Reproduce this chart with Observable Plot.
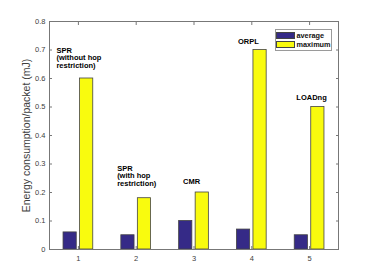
<!DOCTYPE html>
<html><head><meta charset="utf-8">
<script src="https://cdn.jsdelivr.net/npm/d3@7"></script>
<script src="https://cdn.jsdelivr.net/npm/@observablehq/plot@0.6"></script>
<style>
body{margin:0;background:#fff;font-family:"Liberation Sans",Arial,Helvetica,sans-serif;}
#wrap{position:relative;width:374px;height:280px;}
#legend{position:absolute;left:275px;top:29px;width:55px;height:20px;border:1px solid #9a9a9a;background:#fff;}
.item{position:absolute;left:0px;height:10px;display:flex;align-items:center;font-weight:bold;font-size:7.3px;color:#111;white-space:nowrap;}
.sw{width:17px;height:5px;border:1px solid #444;margin-right:1.5px;}
</style></head><body><div id="wrap"></div>
<script>
const groups = [1, 2, 3, 4, 5];
const seriesNames = ["average", "maximum"];
const average = [0.06, 0.05, 0.10, 0.07, 0.05];
const maximum = [0.60, 0.18, 0.20, 0.70, 0.50];
const seriesColors = ["#352a87", "#f9fb0e"];
const xTickLabels = ["1", "2", "3", "4", "5"];
const yTicks = [0, 0.1, 0.2, 0.3, 0.4, 0.5, 0.6, 0.7, 0.8];
const yTickLabels = ["0", "0.1", "0.2", "0.3", "0.4", "0.5", "0.6", "0.7", "0.8"];
const labelText = ["SPR\n(without hop\nrestriction)", "SPR\n(with hop\nrestriction)", "CMR", "ORPL", "LOADng"];
const labelX = [0.62, 1.67, 2.81, 3.76, 4.77];
const labelY = [0.672, 0.258, 0.238, 0.730, 0.534];
const yLabel = "Energy consumption/packet (mJ)";

const seriesValues = [average, maximum];
const n = seriesNames.length;
const groupWidth = Math.min(0.8, n / (n + 1.5));
const barW = groupWidth / n * 0.8;
const rows = seriesNames.flatMap((s, j) => groups.map((g, i) => {
  const off = (j - (n - 1) / 2) * groupWidth / n;
  return {g, s, j, v: seriesValues[j][i], x1: g + off - barW / 2, x2: g + off + barW / 2};
}));
const labels = labelText.map((t, i) => ({t, x: labelX[i], y: labelY[i]}));

const font = "'Liberation Sans', Arial, Helvetica, sans-serif";
const axisColor = "#404040";

const chart = Plot.plot({
  width: 374, height: 280,
  marginLeft: 49, marginRight: 36, marginTop: 21, marginBottom: 31,
  style: {fontFamily: font, background: "white"},
  x: {type: "linear", domain: [0.5, 5.5]},
  y: {type: "linear", domain: [0, 0.8]},
  color: {type: "identity"},
  marks: [
    Plot.rect(rows, {x1: "x1", x2: "x2", y1: 0, y2: "v", fill: d => seriesColors[d.j], stroke: "#444", strokeWidth: 0.8}),
    Plot.frame({stroke: "#777", strokeWidth: 1}),
    Plot.axisX({anchor: "bottom", ticks: groups, tickSize: -3, tickFormat: () => "", label: null, stroke: "#777"}),
    Plot.axisX({anchor: "top", ticks: groups, tickSize: -3, tickFormat: () => "", label: null, stroke: "#777"}),
    Plot.axisY({anchor: "left", ticks: yTicks, tickSize: -3, tickFormat: () => "", label: null, stroke: "#777"}),
    Plot.axisY({anchor: "right", ticks: yTicks, tickSize: -3, tickFormat: () => "", label: null, stroke: "#777"}),
    Plot.axisX({anchor: "bottom", ticks: groups, tickSize: 0, tickPadding: 6, tickFormat: d => xTickLabels[groups.indexOf(d)], label: null, fontSize: 7.5, fill: axisColor}),
    Plot.axisY({anchor: "left", ticks: yTicks, tickSize: 0, tickPadding: 4, tickFormat: d => yTickLabels[yTicks.indexOf(d)], label: null, fontSize: 7.5, fill: axisColor}),
    Plot.text([yLabel], {text: d => d, frameAnchor: "left", rotate: -90, dx: -19.5, lineAnchor: "bottom", textAnchor: "middle", fontSize: 10.5, fill: axisColor}),
    Plot.text(labels, {x: "x", y: "y", text: "t", textAnchor: "start", lineAnchor: "middle", fontWeight: "bold", fontSize: 7.5, lineHeight: 1.02, fill: "#000"})
  ]
});
const wrap = document.getElementById("wrap");
wrap.appendChild(chart);
const legend = document.createElement("div");
legend.id = "legend";
seriesNames.forEach((s, j) => {
  const item = document.createElement("div");
  item.className = "item";
  item.style.top = (j * 9.7) + "px";
  const sw = document.createElement("span");
  sw.className = "sw";
  sw.style.background = seriesColors[j];
  item.appendChild(sw);
  item.appendChild(document.createTextNode(s));
  legend.appendChild(item);
});
wrap.appendChild(legend);
</script></body></html>
